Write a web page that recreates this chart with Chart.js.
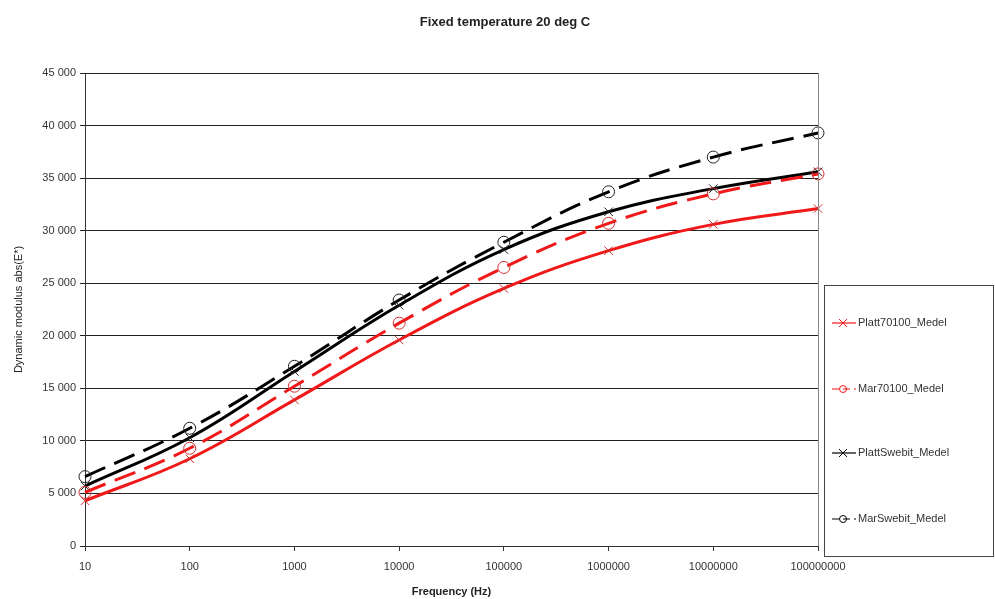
<!DOCTYPE html>
<html>
<head>
<meta charset="utf-8">
<script src="https://cdn.jsdelivr.net/npm/chart.js@4/dist/chart.umd.min.js"></script>
<style>
html,body{margin:0;padding:0;background:#fff;}
#wrap{position:relative;width:995px;height:599px;}
</style>
</head>
<body>
<div id="wrap"><canvas id="c" width="995" height="599"></canvas></div>
<script>
const frequencies = ['10','100','1000','10000','100000','1000000','10000000','100000000'];
const platt70100 = [4300, 8300, 13900, 19600, 24500, 28100, 30600, 32100];
const mar70100   = [5100, 9300, 15200, 21200, 26500, 30700, 33500, 35400];
const plattSwebit= [5700, 10300, 16600, 22900, 28200, 31800, 34000, 35600];
const marSwebit  = [6600, 11200, 17100, 23400, 28900, 33700, 37000, 39300];
const seriesNames = ['Platt70100_Medel','Mar70100_Medel','PlattSwebit_Medel','MarSwebit_Medel'];
const yTicks = [0,5000,10000,15000,20000,25000,30000,35000,40000,45000];

const RED = '#f01818', BLACK = '#000000';
const FONT = '"Liberation Sans", Arial, sans-serif';

function fmt(v){ return String(v).replace(/\B(?=(\d{3})+(?!\d))/g, ' '); }

const ds = [
  {label: seriesNames[0], data: platt70100, borderColor: RED, pointStyle: 'crossRot', dash: []},
  {label: seriesNames[1], data: mar70100, borderColor: RED, pointStyle: 'circle', dash: [22,10]},
  {label: seriesNames[2], data: plattSwebit, borderColor: BLACK, pointStyle: 'crossRot', dash: []},
  {label: seriesNames[3], data: marSwebit, borderColor: BLACK, pointStyle: 'circle', dash: [22,10]}
].map(d => ({
  label: d.label, data: d.data, borderColor: d.borderColor, backgroundColor: 'rgba(0,0,0,0)',
  borderWidth: 3, borderDash: d.dash, tension: 0.4,
  pointStyle: d.pointStyle, pointRadius: 6, pointBorderWidth: 1,
  pointBorderColor: d.borderColor === RED ? '#d03030' : '#222', pointBackgroundColor: 'rgba(0,0,0,0)'
}));

const decor = {
  id: 'decor',
  afterDraw(chart){
    const ctx = chart.ctx;
    const a = chart.chartArea;
    ctx.save();
    ctx.strokeStyle = '#888'; ctx.lineWidth = 1;
    ctx.beginPath(); ctx.moveTo(Math.round(a.right)+0.5, a.top); ctx.lineTo(Math.round(a.right)+0.5, a.bottom); ctx.stroke();
    ctx.fillStyle = '#222';
    ctx.font = 'bold 13px ' + FONT;
    ctx.textAlign = 'center'; ctx.textBaseline = 'middle';
    ctx.fillText('Fixed temperature 20 deg C', 505, 22);
    ctx.strokeStyle = '#444'; ctx.lineWidth = 1;
    ctx.strokeRect(824.5, 285.5, 169, 271);
    const ys = [323, 389, 453, 519];
    chart.data.datasets.forEach((d, i) => {
      const y = ys[i];
      ctx.strokeStyle = d.borderColor; ctx.lineWidth = 1.2;
      ctx.setLineDash(d.borderDash.length ? [7,4] : []);
      ctx.beginPath(); ctx.moveTo(832, y); ctx.lineTo(856, y); ctx.stroke();
      ctx.setLineDash([]);
      ctx.lineWidth = 1;
      ctx.beginPath();
      if (d.pointStyle === 'circle') {
        ctx.arc(843, y, 3.5, 0, Math.PI*2);
      } else {
        ctx.moveTo(839, y-4); ctx.lineTo(847, y+4);
        ctx.moveTo(847, y-4); ctx.lineTo(839, y+4);
      }
      ctx.stroke();
      ctx.fillStyle = '#333';
      ctx.font = '11px ' + FONT;
      ctx.textAlign = 'left'; ctx.textBaseline = 'middle';
      ctx.fillText(d.label, 858, y);
    });
    ctx.restore();
  }
};

new Chart(document.getElementById('c'), {
  type: 'line',
  data: { labels: frequencies, datasets: ds },
  options: {
    responsive: false, animation: false, devicePixelRatio: 1,
    layout: { padding: { top: 73, right: 177, left: 0, bottom: 0 } },
    plugins: { legend: { display: false }, title: { display: false }, tooltip: { enabled: false } },
    scales: {
      x: {
        type: 'category', offset: false,
        grid: { display: true, drawOnChartArea: false, drawTicks: true, tickLength: 5, color: '#333' },
        border: { display: true, color: '#333', width: 1 },
        ticks: { color: '#333', font: { family: FONT, size: 11 }, maxRotation: 0, autoSkip: false, padding: 9 },
        title: { display: true, text: 'Frequency (Hz)', color: '#222', font: { family: FONT, size: 11, weight: 'bold' }, padding: { top: 6, bottom: 0 } },
        afterFit(s){ s.height = 53; }
      },
      y: {
        min: 0, max: 45000,
        afterBuildTicks(s){ s.ticks = yTicks.map(v => ({ value: v })); },
        grid: { color: '#222', lineWidth: 1, drawTicks: true, tickLength: 5 },
        border: { display: true, color: '#333', width: 1 },
        ticks: { color: '#333', font: { family: FONT, size: 11 }, padding: 4, callback: v => fmt(v) },
        title: { display: true, text: 'Dynamic modulus abs(E*)', color: '#222', font: { family: FONT, size: 11 }, padding: { top: 12, bottom: 4 } },
        afterFit(s){ s.width = 85; }
      }
    }
  },
  plugins: [decor]
});
</script>
</body>
</html>
